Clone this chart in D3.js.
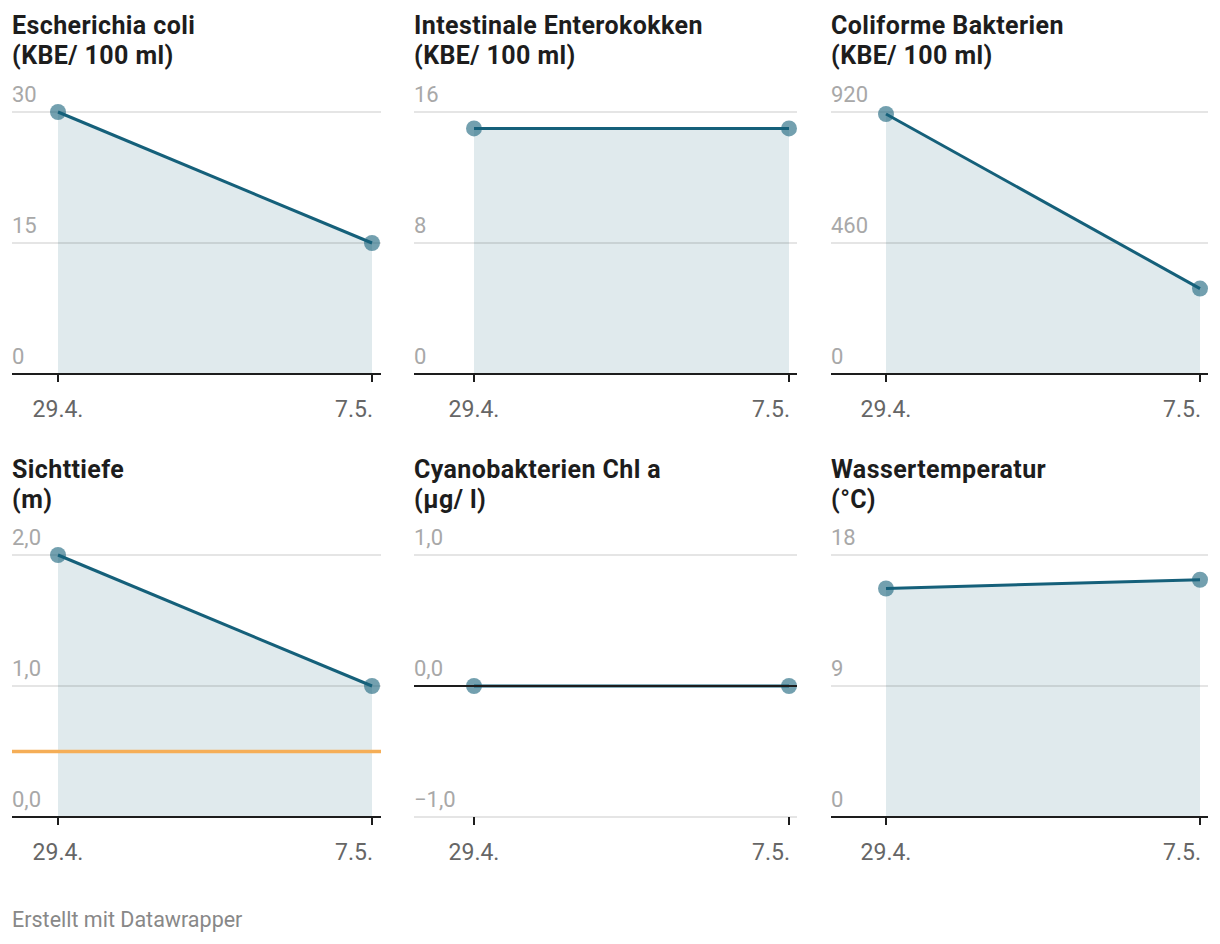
<!DOCTYPE html>
<html>
<head>
<meta charset="utf-8">
<script src="https://cdn.jsdelivr.net/npm/d3@7"></script>
<style>
  body { margin: 0; background: #fff; font-family: Roboto, "Noto Sans", sans-serif; }
  svg text { font-family: Roboto, "Noto Sans", sans-serif; }
</style>
</head>
<body>
<svg id="chart" width="1220" height="944"></svg>
<script>
// data
var dates = ["29.4.", "7.5."];
var titles = ["Escherichia coli", "Intestinale Enterokokken", "Coliforme Bakterien",
              "Sichttiefe", "Cyanobakterien Chl a", "Wassertemperatur"];
var units = ["(KBE/ 100 ml)", "(KBE/ 100 ml)", "(KBE/ 100 ml)", "(m)", "(µg/ l)", "(°C)"];
var values = [[30, 15], [15, 15], [913, 300], [2.0, 1.0], [0, 0], [15.7, 16.3]];
var yTicks = [[0, 15, 30], [0, 8, 16], [0, 460, 920], [0, 1, 2], [-1, 0, 1], [0, 9, 18]];
var decimals = [0, 0, 0, 1, 1, 0];
var refLines = [null, null, null, 0.5, null, null];

// layout of the 3x2 grid
var colLeft = [12, 414, 831];
var colRight = [381, 797, 1208];
var colPts = [[58, 372], [474, 789], [886, 1200]];
var rowOffset = [0, 443];

var lineColor = "#15607a";
var svg = d3.select("#chart");

var deFormat = (v, d) => {
  var s = d3.format("." + d + "f")(Math.abs(v)).replace(".", ",");
  return (v < 0 ? "\u2212" : "") + s;
};

titles.forEach(function(title, i) {
  var col = i % 3, row = Math.floor(i / 3);
  var g = svg.append("g").attr("transform", "translate(0," + rowOffset[row] + ")");
  var x0 = colLeft[col], x1 = colRight[col];
  var ticks = yTicks[i];

  var x = d3.scalePoint().domain(dates).range(colPts[col]);
  var y = d3.scaleLinear().domain(d3.extent(ticks)).range([374, 112]);

  // title, two lines
  var t = g.append("text").attr("x", x0).attr("y", 34 + row)
    .attr("font-size", 25).attr("font-weight", 700).attr("letter-spacing", 0.4)
    .attr("fill", "#1d1d1d");
  t.append("tspan").attr("x", x0).text(title);
  t.append("tspan").attr("x", x0).attr("dy", 30).text(units[i]);

  // area down to zero
  var data = dates.map((d, k) => ({ d: d, v: values[i][k] }));
  g.append("path").datum(data)
    .attr("fill", lineColor).attr("fill-opacity", 0.135)
    .attr("d", d3.area().x(d => x(d.d)).y0(y(0)).y1(d => y(d.v)));

  // gridlines + labels
  ticks.forEach(function(tv) {
    if (tv !== 0) {
      g.append("line").attr("x1", x0).attr("x2", x1)
        .attr("y1", y(tv)).attr("y2", y(tv))
        .attr("stroke", "#000").attr("stroke-opacity", 0.1).attr("stroke-width", 2);
    }
    g.append("text").attr("x", x0).attr("y", y(tv) - 10.5)
      .attr("font-size", 22).attr("fill", "#a8a8a8").text(deFormat(tv, decimals[i]));
  });

  // orange reference line
  if (refLines[i] != null) {
    g.append("line").attr("x1", x0).attr("x2", x1)
      .attr("y1", y(refLines[i])).attr("y2", y(refLines[i]))
      .attr("stroke", "#f5ae57").attr("stroke-width", 3.5);
  }

  // x ticks at bottom of the panel
  var yb = y.range()[0];
  dates.forEach(function(d, k) {
    g.append("line").attr("x1", x(d)).attr("x2", x(d))
      .attr("y1", yb).attr("y2", yb + 8)
      .attr("stroke", "#1d1d1d").attr("stroke-width", 2);
    g.append("text")
      .attr("x", k === dates.length - 1 ? x(d) + 1 : x(d))
      .attr("y", yb + 42.5)
      .attr("text-anchor", k === dates.length - 1 ? "end" : "middle")
      .attr("font-size", 23).attr("fill", "#666").text(d);
  });

  // dots then line
  g.selectAll("circle.dot").data(data).join("circle").attr("class", "dot")
    .attr("cx", d => x(d.d)).attr("cy", d => y(d.v)).attr("r", 8)
    .attr("fill", lineColor).attr("fill-opacity", 0.6);
  g.append("path").datum(data)
    .attr("fill", "none").attr("stroke", lineColor).attr("stroke-width", 3)
    .attr("d", d3.line().x(d => x(d.d)).y(d => y(d.v)));

  // zero baseline on top
  g.append("line").attr("x1", x0).attr("x2", x1)
    .attr("y1", y(0)).attr("y2", y(0))
    .attr("stroke", "#1d1d1d").attr("stroke-width", 2);
});

svg.append("text").attr("x", 12).attr("y", 927)
  .attr("font-size", 21.5).attr("fill", "#888").text("Erstellt mit Datawrapper");
</script>
</body>
</html>
